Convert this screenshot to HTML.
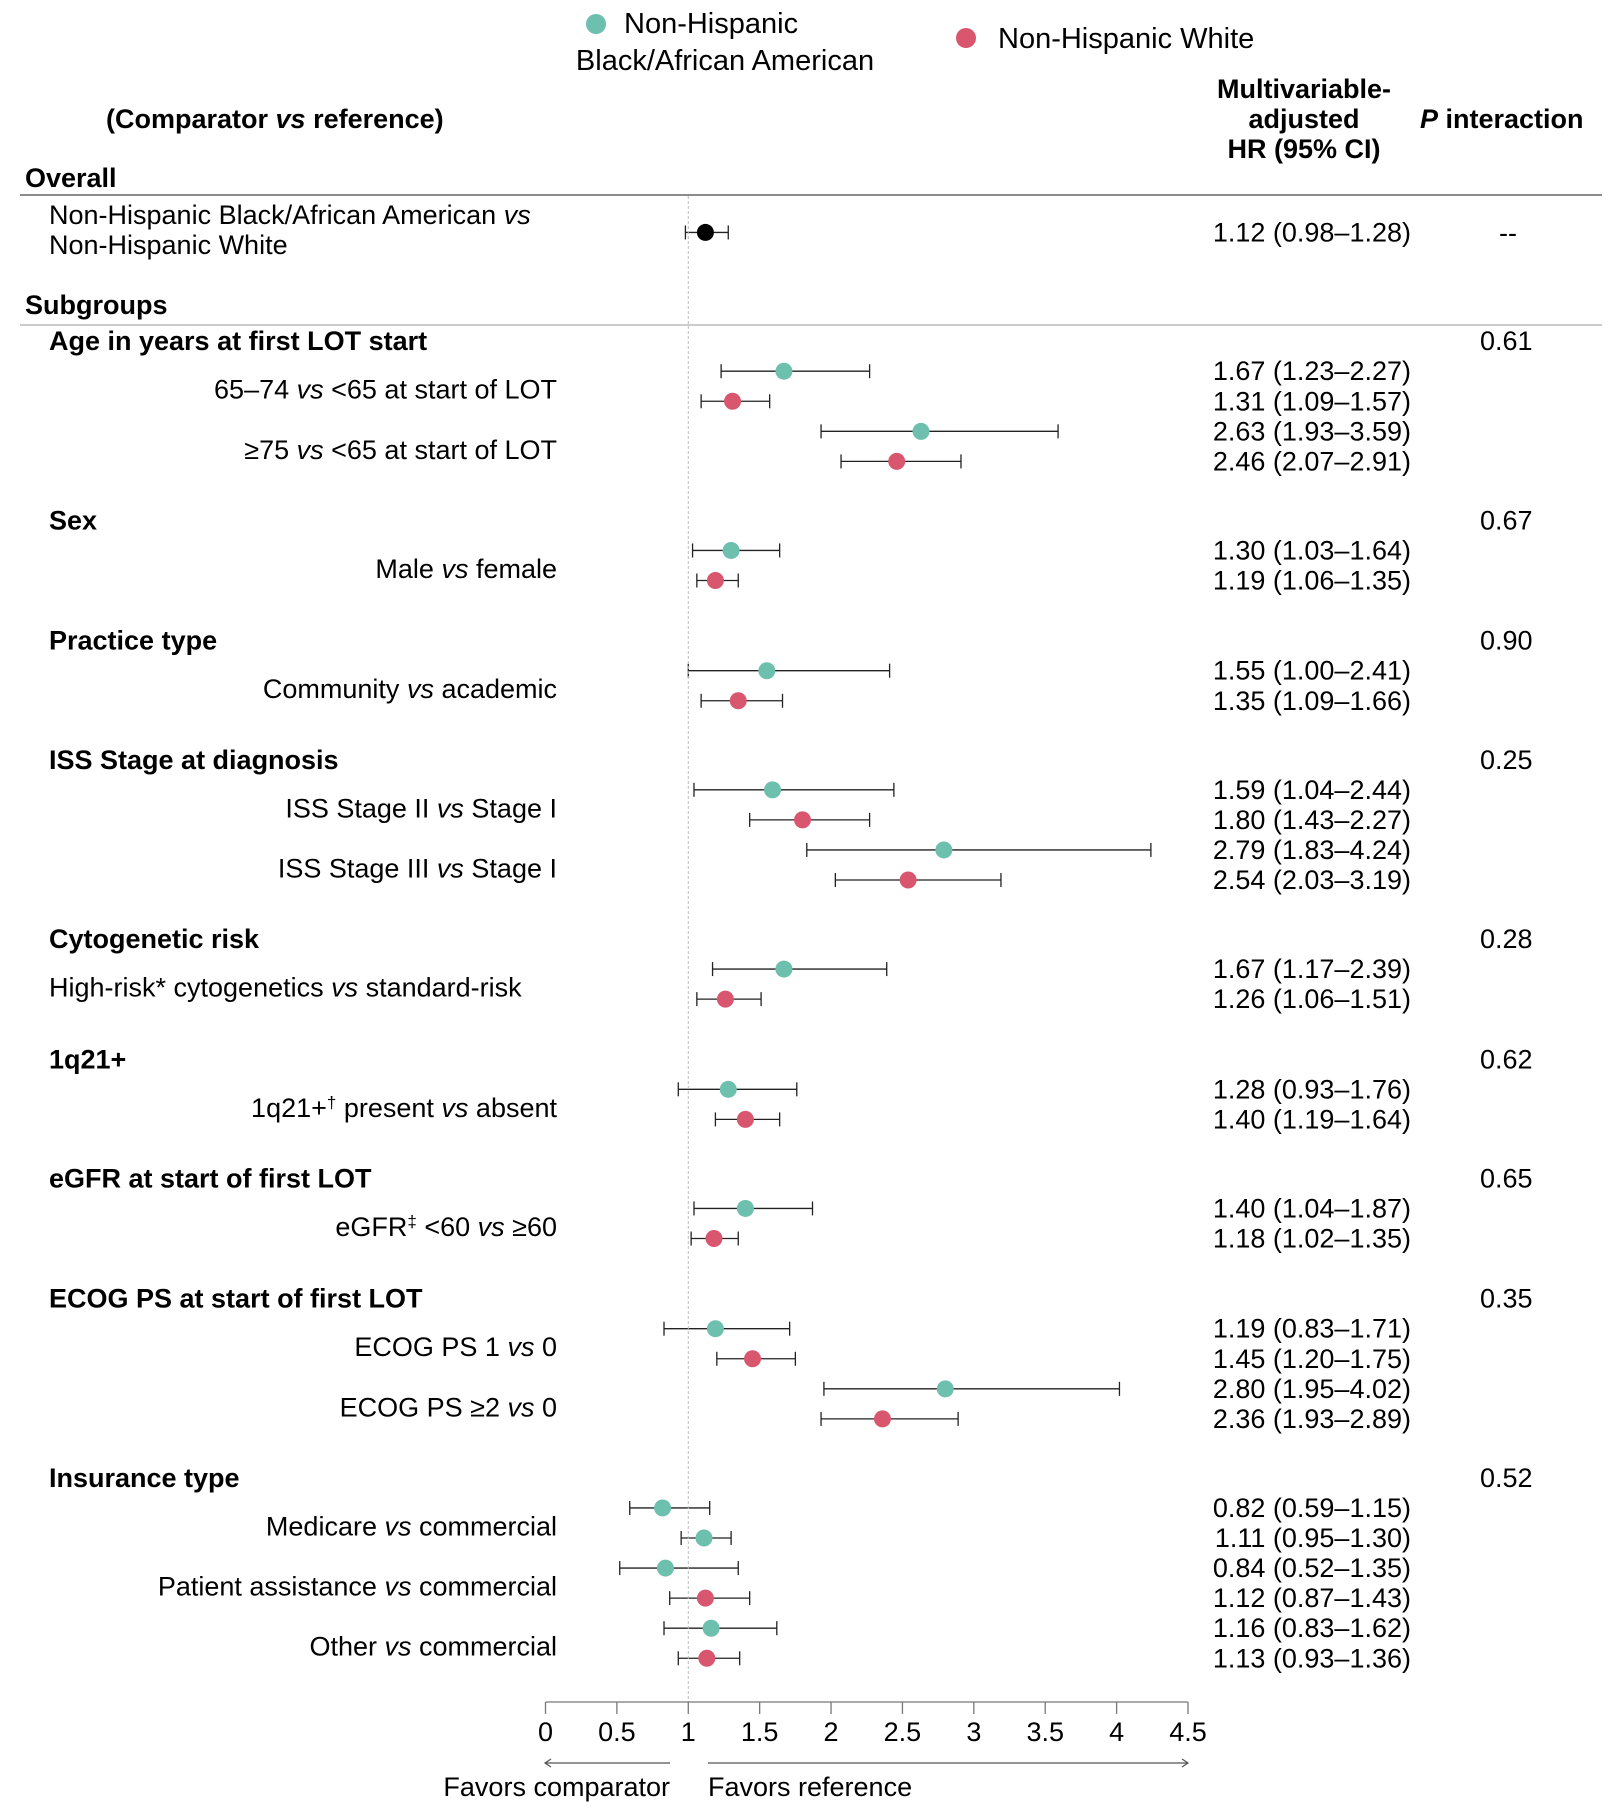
<!DOCTYPE html>
<html><head><meta charset="utf-8"><style>
body{margin:0;background:#fff;width:1619px;height:1813px;overflow:hidden}
svg{font-family:"Liberation Sans",Arial,sans-serif}
</style></head><body>
<svg id="c" width="1619" height="1813">
<g>
<circle cx="596" cy="24" r="10" fill="#6dbfae"/>
<text x="624" y="33" font-size="29">Non-Hispanic</text>
<text x="725" y="70" font-size="29" text-anchor="middle">Black/African American</text>
<circle cx="966" cy="38" r="10" fill="#d9566f"/>
<text x="998" y="48" font-size="29">Non-Hispanic White</text>
</g>
<text x="106" y="128" font-size="27" font-weight="bold">(Comparator <tspan font-style="italic">vs</tspan> reference)</text>
<g font-size="27" font-weight="bold" text-anchor="middle">
<text x="1304" y="98">Multivariable-</text><text x="1304" y="128">adjusted</text><text x="1304" y="158">HR (95% CI)</text></g>
<text x="1420" y="128" font-size="27" font-weight="bold"><tspan font-style="italic">P</tspan> interaction</text>
<text x="25" y="187" font-size="27" font-weight="bold">Overall</text>
<line x1="20" y1="195" x2="1602" y2="195" stroke="#666" stroke-width="1.5"/>
<text x="49" y="224" font-size="27">Non-Hispanic Black/African American <tspan font-style="italic">vs</tspan></text>
<text x="49" y="254" font-size="27">Non-Hispanic White</text>
<text x="1508" y="242" font-size="27" text-anchor="middle">--</text>
<text x="25" y="314" font-size="27" font-weight="bold">Subgroups</text>
<line x1="20" y1="325" x2="1602" y2="325" stroke="#bbb" stroke-width="1.5"/>
<g id="labels"></g><g id="marks"></g><g id="axis"></g>
</svg>
<script>
const S=1.1564;
const estimates=[1.12,1.67,1.31,2.63,2.46,1.30,1.19,1.55,1.35,1.59,1.80,2.79,2.54,1.67,1.26,1.28,1.40,1.40,1.18,1.19,1.45,2.80,2.36,0.82,1.11,0.84,1.12,1.16,1.13];
const lower=[0.98,1.23,1.09,1.93,2.07,1.03,1.06,1.00,1.09,1.04,1.43,1.83,2.03,1.17,1.06,0.93,1.19,1.04,1.02,0.83,1.20,1.95,1.93,0.59,0.95,0.52,0.87,0.83,0.93];
const upper=[1.28,2.27,1.57,3.59,2.91,1.64,1.35,2.41,1.66,2.44,2.27,4.24,3.19,2.39,1.51,1.76,1.64,1.87,1.35,1.71,1.75,4.02,2.89,1.15,1.30,1.35,1.43,1.62,1.36];
const groups=["overall","black","white","black","white","black","white","black","white","black","white","black","white","black","white","black","white","black","white","black","white","black","white","black","black","black","white","black","white"];
const rowYDisp=[201,321,347,373,399,476,502,580,606,683,709,735,761,838,864,942,968,1045,1071,1149,1175,1201,1227,1304,1330,1356,1382,1408,1434];
const headers=["Age in years at first LOT start","Sex","Practice type","ISS Stage at diagnosis","Cytogenetic risk","1q21+","eGFR at start of first LOT","ECOG PS at start of first LOT","Insurance type"];
const headerYDisp=[295,450,554,657,812,916,1019,1123,1278];
const pValues=["0.61","0.67","0.90","0.25","0.28","0.62","0.65","0.35","0.52"];
const subLabels=['65–74 <i>vs</i> &lt;65 at start of LOT','≥75 <i>vs</i> &lt;65 at start of LOT','Male <i>vs</i> female','Community <i>vs</i> academic','ISS Stage II <i>vs</i> Stage I','ISS Stage III <i>vs</i> Stage I','High-risk* cytogenetics <i>vs</i> standard-risk','1q21+<sup>†</sup> present <i>vs</i> absent','eGFR<sup>‡</sup> &lt;60 <i>vs</i> ≥60','ECOG PS 1 <i>vs</i> 0','ECOG PS  ≥2 <i>vs</i> 0','Medicare <i>vs</i> commercial','Patient assistance <i>vs</i> commercial','Other <i>vs</i> commercial'];
const subYDisp=[337,389,492,596,699,751,854,958,1061,1165,1217,1320,1372,1424];
const ticks=[0,0.5,1,1.5,2,2.5,3,3.5,4,4.5];
const X0=545.5,X45=1188;
const xs=v=>X0+(X45-X0)*v/4.5;
const ys=d=>d*S;
const colors={overall:"#000",black:"#6dbfae",white:"#d9566f"};
const NS="http://www.w3.org/2000/svg";
function mk(tag,attrs,parent){const e=document.createElementNS(NS,tag);for(const k in attrs)e.setAttribute(k,attrs[k]);parent.appendChild(e);return e;}
const L=document.getElementById('labels'),M=document.getElementById('marks'),A=document.getElementById('axis');
const ref=mk('line',{x1:xs(1),x2:xs(1),y1:196,y2:1702,stroke:'#bbb','stroke-width':1,'stroke-dasharray':'3,2'},A);


headers.forEach((h,i)=>{const t=mk('text',{x:49,y:ys(headerYDisp[i])+9,'font-size':27,'font-weight':'bold'},L);t.textContent=h;


const p=mk('text',{x:1480,y:ys(headerYDisp[i])+9,'font-size':27},L);p.textContent=pValues[i];

});
subLabels.forEach((s,i)=>{const left=i==6;const t=mk('text',{x:left?49:557,y:ys(subYDisp[i])+9,'font-size':27,'text-anchor':left?'start':'end'},L);t.innerHTML=s.replace(/<i>/g,'<tspan font-style="italic">').replace(/<\/i>/g,'</tspan>').replace(/<sup>/g,'<tspan font-size="17" baseline-shift="super">').replace(/<\/sup>/g,'</tspan>');

});
estimates.forEach((e,i)=>{const y=ys(rowYDisp[i]);const c=colors[groups[i]];
const g=mk('g',{},M);


mk('line',{x1:xs(lower[i]),x2:xs(upper[i]),y1:y,y2:y,stroke:'#222','stroke-width':1.3},g);
mk('line',{x1:xs(lower[i]),x2:xs(lower[i]),y1:y-7,y2:y+7,stroke:'#222','stroke-width':1.3},g);
mk('line',{x1:xs(upper[i]),x2:xs(upper[i]),y1:y-7,y2:y+7,stroke:'#222','stroke-width':1.3},g);
mk('circle',{cx:xs(e),cy:y,r:8.5,fill:c},g);
const t=mk('text',{x:1411,y:y+9,'font-size':27,'text-anchor':'end'},M);
t.textContent=e.toFixed(2)+' ('+lower[i].toFixed(2)+'–'+upper[i].toFixed(2)+')';

});
const ax=mk('line',{x1:xs(0),x2:xs(4.5),y1:1702,y2:1702,stroke:'#777','stroke-width':1.3},A);


ticks.forEach(v=>{mk('line',{x1:xs(v),x2:xs(v),y1:1702,y2:1714,stroke:'#777','stroke-width':1.3},A);
const t=mk('text',{x:xs(v),y:1741,'font-size':27,'text-anchor':'middle'},A);t.textContent=v;

});
const arr=mk('g',{stroke:'#555','stroke-width':1.2,fill:'none'},A);


mk('path',{d:'M545 1763H670M551 1759L545 1763L551 1767'},arr);
mk('path',{d:'M708 1763H1188M1182 1759L1188 1763L1182 1767'},arr);
const f1=mk('text',{x:670,y:1796,'font-size':27,'text-anchor':'end'},A);f1.textContent='Favors comparator';


const f2=mk('text',{x:708,y:1796,'font-size':27},A);f2.textContent='Favors reference';


</script>
</body></html>
